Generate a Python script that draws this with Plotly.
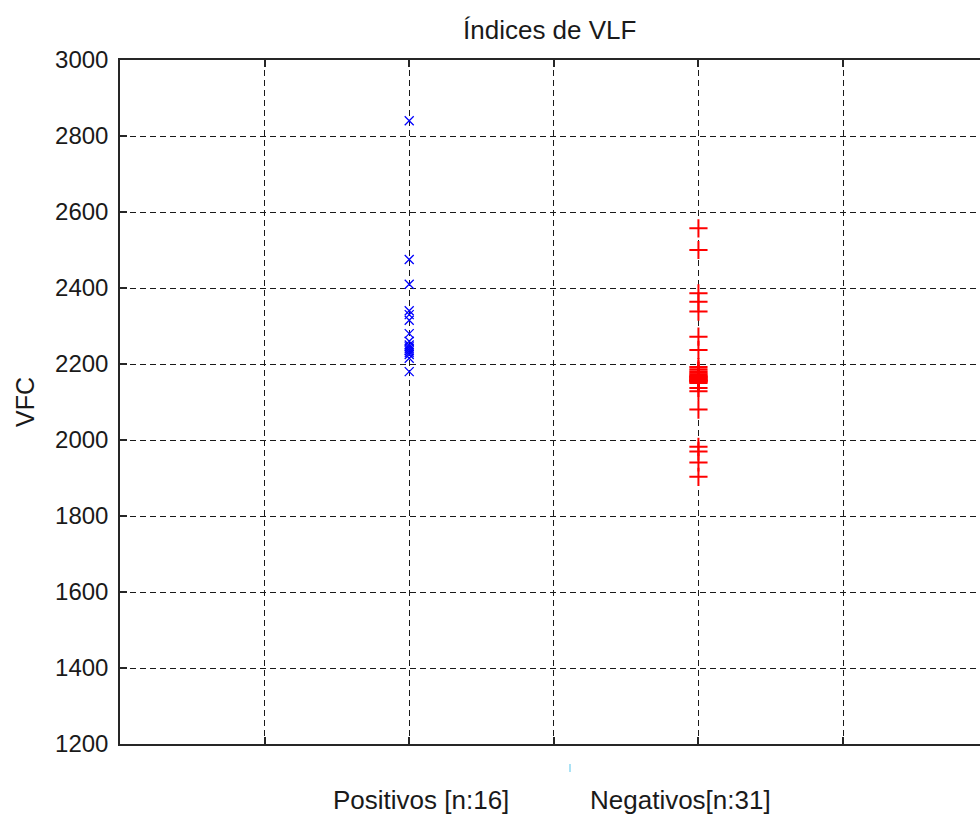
import plotly.graph_objects as go

# VLF index values per group
positivos = [2840, 2475, 2410, 2340, 2330, 2315, 2280, 2260, 2250, 2245,
             2240, 2235, 2230, 2225, 2215, 2180]
negativos = [2557, 2500, 2386, 2364, 2338, 2272, 2237,
             2192, 2186, 2181, 2177, 2173, 2170, 2168, 2166, 2164, 2162,
             2160, 2158, 2156, 2155, 2153, 2150, 2137, 2128, 2080,
             1982, 1970, 1941, 1903]
pos_x = 2
neg_x = 4
group_labels = ["Positivos [n:16]", "Negativos[n:31]"]
y_ticks = [1200, 1400, 1600, 1800, 2000, 2200, 2400, 2600, 2800, 3000]
x_ticks = [1, 2, 3, 4, 5]

FONT = "Liberation Sans, Arial, sans-serif"
GRID_DASH = "6px,4px"
AX = "#262626"
GRID = "#1a1a1a"

fig = go.Figure()
fig.add_trace(go.Scatter(
    x=[pos_x] * len(positivos), y=positivos, mode="markers",
    marker=dict(symbol="x-thin", size=9, line=dict(color="#0000ff", width=1.3)),
    showlegend=False, hoverinfo="y"))
fig.add_trace(go.Scatter(
    x=[neg_x] * len(negativos), y=negativos, mode="markers",
    marker=dict(symbol="cross-thin", size=13, line=dict(color="#ff0000", width=2)),
    showlegend=False, hoverinfo="y"))
# empty trace so the top (mirrored) axis gets drawn
fig.add_trace(go.Scatter(x=[None], y=[None], xaxis="x2", yaxis="y",
                         mode="markers", showlegend=False, hoverinfo="skip"))

x_range = [0, 5.947]

fig.update_layout(
    width=980, height=815,
    margin=dict(l=120, r=0, t=60, b=71),
    paper_bgcolor="white", plot_bgcolor="white",
    font=dict(family=FONT, color="#1a1a1a"),
    xaxis=dict(range=x_range, tickvals=x_ticks, ticktext=[""] * len(x_ticks),
               ticks="inside", ticklen=7, tickwidth=1.5, tickcolor=AX,
               showline=True, linecolor=AX, linewidth=1.5, mirror=False,
               showgrid=True, gridcolor=GRID, gridwidth=1.4, griddash=GRID_DASH,
               zeroline=False, fixedrange=True),
    xaxis2=dict(range=x_range, tickvals=x_ticks, ticktext=[""] * len(x_ticks),
                overlaying="x", side="top", anchor="y",
                ticks="inside", ticklen=7, tickwidth=1.5, tickcolor=AX,
                showline=True, linecolor=AX, linewidth=1.5,
                showgrid=False, zeroline=False, fixedrange=True),
    yaxis=dict(range=[1200, 3000], tickvals=y_ticks,
               ticks="inside", ticklen=7, tickwidth=1.5, tickcolor=AX,
               ticklabelstandoff=5,
               tickfont=dict(size=24, family=FONT, color="#1a1a1a"),
               showline=True, linecolor=AX, linewidth=1.5,
               showgrid=True, gridcolor=GRID, gridwidth=1.4, griddash=GRID_DASH,
               zeroline=False, fixedrange=True),
)

# title
fig.add_annotation(text="Índices de VLF", xref="paper", yref="paper",
                   x=(549 - 120) / 860, y=1 + 30 / 684, showarrow=False,
                   xanchor="center", yanchor="middle",
                   font=dict(size=26, family=FONT, color="#1a1a1a"))
# y-axis label
fig.add_annotation(text="VFC", xref="paper", yref="paper",
                   x=(25 - 120) / 860, y=0.5, showarrow=False, textangle=-90,
                   xanchor="center", yanchor="middle",
                   font=dict(size=25, family=FONT, color="#1a1a1a"))
# group labels under the axis
for label, px in zip(group_labels, [421, 680]):
    fig.add_annotation(text=label, xref="paper", yref="paper",
                       x=(px - 120) / 860, y=(744 - 800) / 684, showarrow=False,
                       xanchor="center", yanchor="middle",
                       font=dict(size=26, family=FONT, color="#1a1a1a"))
# small cyan caret mark
fig.add_shape(type="line", xref="paper", yref="paper",
              x0=(570 - 120) / 860, x1=(570 - 120) / 860,
              y0=(744 - 764) / 684, y1=(744 - 772) / 684,
              line=dict(color="#8fd8f2", width=1.5))

fig.write_html("out.html")
